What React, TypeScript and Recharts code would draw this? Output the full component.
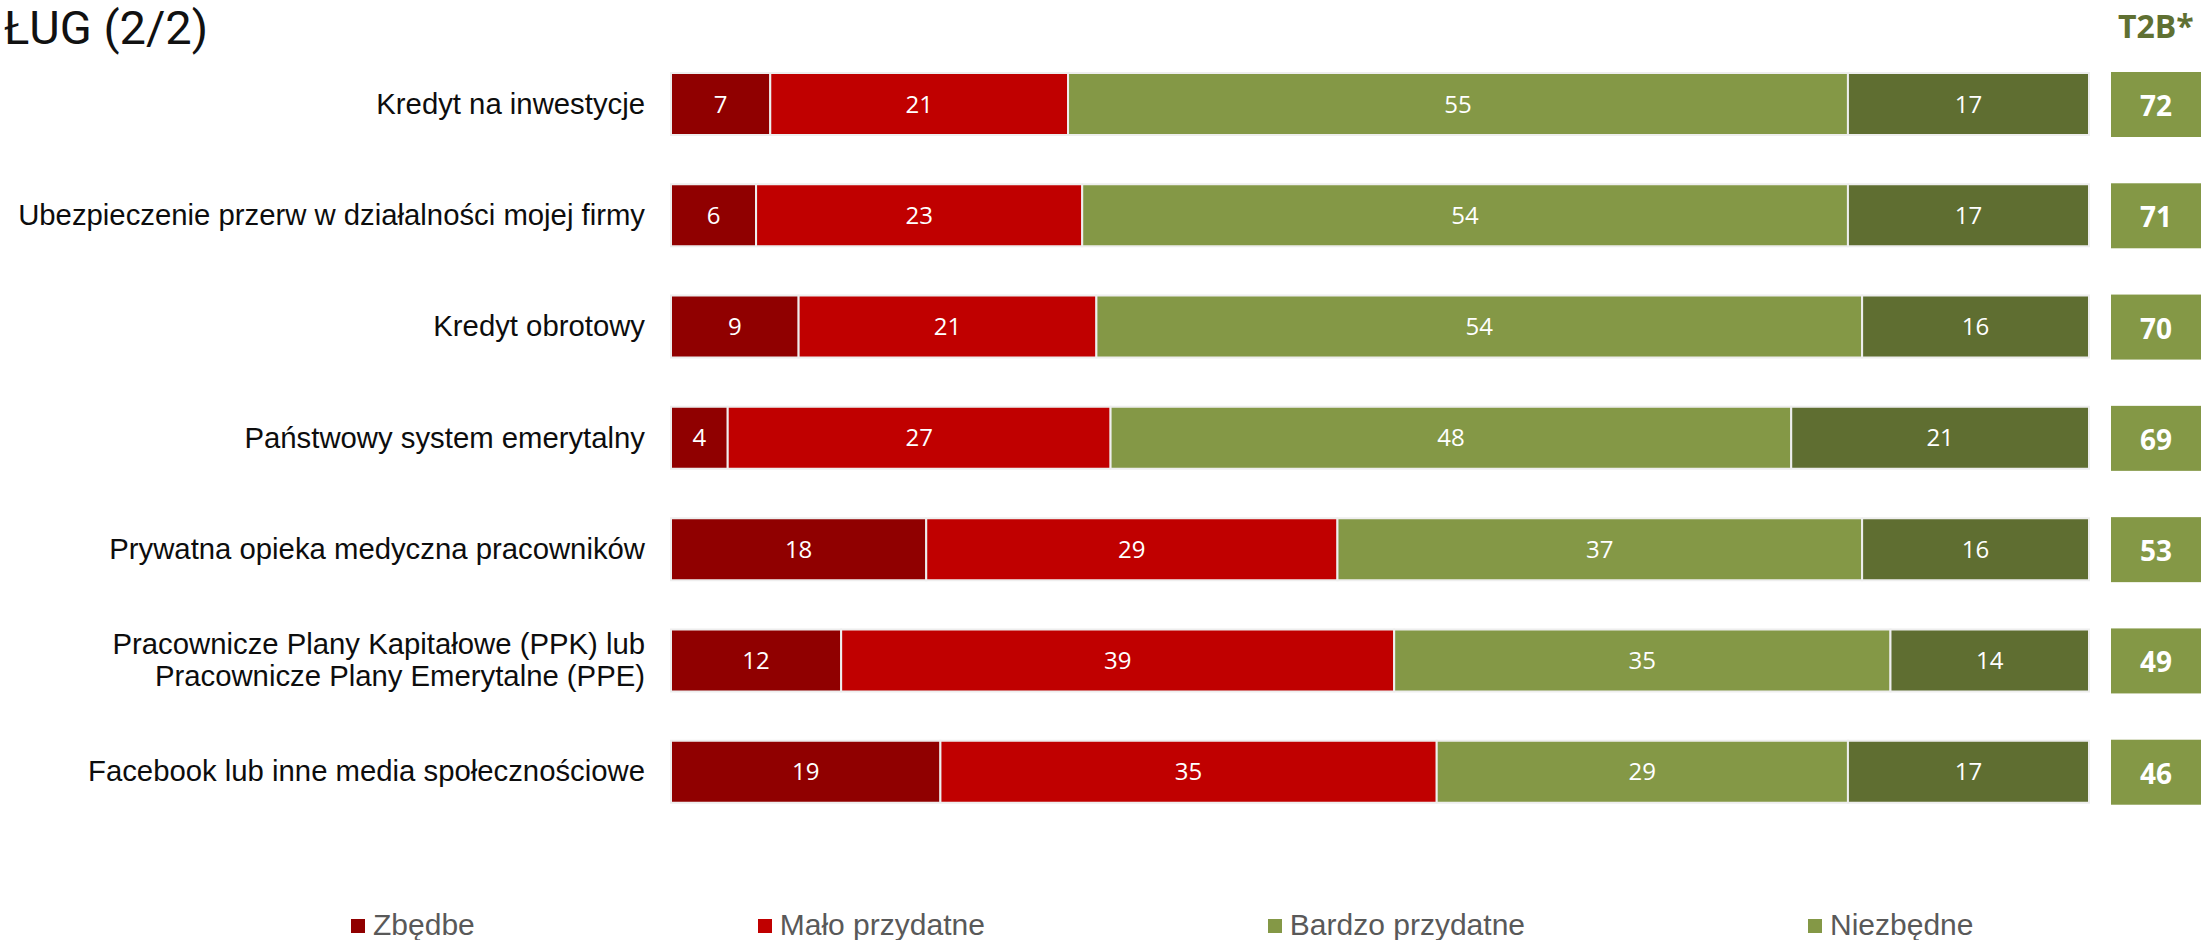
import React from 'react';
import { BarChart, Bar, XAxis, YAxis, LabelList } from 'recharts';

// kategorie (oś Y) i wartości procentowe dla każdej odpowiedzi
const categories = [
  'Kredyt na inwestycje',
  'Ubezpieczenie przerw w działalności mojej firmy',
  'Kredyt obrotowy',
  'Państwowy system emerytalny',
  'Prywatna opieka medyczna pracowników',
  'Pracownicze Plany Kapitałowe (PPK) lub\nPracownicze Plany Emerytalne (PPE)',
  'Facebook lub inne media społecznościowe',
];
const zbedne = [7, 6, 9, 4, 18, 12, 19];
const maloPrzydatne = [21, 23, 21, 27, 29, 39, 35];
const bardzoPrzydatne = [55, 54, 54, 48, 37, 35, 29];
const niezbedne = [17, 17, 16, 21, 16, 14, 17];
const t2b = [72, 71, 70, 69, 53, 49, 46];

const seriesNames = ['Zbędbe', 'Mało przydatne', 'Bardzo przydatne', 'Niezbędne'];
const seriesColors = ['#900000', '#C00000', '#849846', '#5F6E31'];
// w oryginale kwadracik "Niezbędne" ma jaśniejszy zielony
const legendColors = ['#900000', '#C00000', '#849846', '#849846'];

const data = categories.map((name, i) => ({
  name,
  zb: zbedne[i],
  malo: maloPrzydatne[i],
  bardzo: bardzoPrzydatne[i],
  niez: niezbedne[i],
  t2b: t2b[i],
}));

const CategoryTick = (props: any) => {
  const { x, y, payload } = props;
  const lines = String(payload.value).split('\n');
  const lh = 32;
  return (
    <text
      x={x}
      y={y}
      textAnchor="end"
      fill="#0d0d0d"
      fontSize={29.3}
      fontFamily="'Liberation Sans', Arial, sans-serif"
    >
      {lines.map((l, i) => (
        <tspan key={i} x={x} dy={i === 0 ? -((lines.length - 1) * lh) / 2 + 10 : lh}>
          {l}
        </tspan>
      ))}
    </text>
  );
};

// pudełko T2B po prawej stronie słupka
const T2BBox = (props: any) => {
  const { x, y, width, height, value } = props;
  const bx = x + width + 22;
  return (
    <g>
      <rect x={bx} y={y - 1} width={90} height={height + 3} fill="#849846" />
      <text
        x={bx + 45}
        y={y + height / 2 + 1}
        textAnchor="middle"
        dominantBaseline="central"
        fill="#fff"
        fontSize={28}
        fontWeight={700}
        fontFamily="'Open Sans', sans-serif"
      >
        {value}
      </text>
    </g>
  );
};

const labelStyle = { fill: '#fff', fontSize: 24, fontFamily: "'Open Sans', sans-serif" };

const App = () => {
  const keys = ['zb', 'malo', 'bardzo', 'niez'];
  return (
    <div style={{ position: 'absolute', left: 0, top: 0, width: 2201, height: 940, background: '#fff' }}>
      <BarChart
        width={2201}
        height={940}
        data={data}
        layout="vertical"
        margin={{ top: 48, right: 112, bottom: 113, left: 0 }}
      >
        <XAxis type="number" domain={[0, 100]} hide />
        <YAxis
          type="category"
          dataKey="name"
          width={671}
          axisLine={false}
          tickLine={false}
          tickSize={0}
          tickMargin={26}
          tick={<CategoryTick />}
          interval={0}
        />
        {keys.map((k, i) => (
          <Bar
            key={k}
            dataKey={k}
            name={seriesNames[i]}
            stackId="a"
            fill={seriesColors[i]}
            stroke="#eeeeee"
            strokeWidth={2}
            barSize={62}
            isAnimationActive={false}
          >
            <LabelList dataKey={k} position="center" style={labelStyle} />
            {k === 'niez' && <LabelList dataKey="t2b" content={<T2BBox />} />}
          </Bar>
        ))}
      </BarChart>

      {/* legenda */}
      <div style={{ position: 'absolute', left: 0, top: 910, display: 'flex', alignItems: 'center', paddingLeft: 351 }}>
        {seriesNames.map((n, i) => (
          <div key={n} style={{ display: 'flex', alignItems: 'center', marginRight: 283 }}>
            <div style={{ width: 14, height: 14, background: legendColors[i], marginRight: 8, marginTop: 2 }} />
            <span
              style={{
                fontFamily: "'Liberation Sans', Arial, sans-serif",
                fontSize: 30,
                lineHeight: '30px',
                color: '#595959',
                whiteSpace: 'nowrap',
              }}
            >
              {n}
            </span>
          </div>
        ))}
      </div>

      <svg
        width={2201}
        height={940}
        style={{ position: 'absolute', left: 0, top: 0, pointerEvents: 'none' }}
      >
        <text x={4} y={44} fontSize={47} fontFamily="Roboto, sans-serif" fill="#111">
          ŁUG (2/2)
        </text>
        <text x={2118} y={38} fontSize={32} fontWeight={700} fontFamily="'Open Sans', sans-serif" fill="#5F7032">
          T2B*
        </text>
      </svg>
    </div>
  );
};

export default App;
